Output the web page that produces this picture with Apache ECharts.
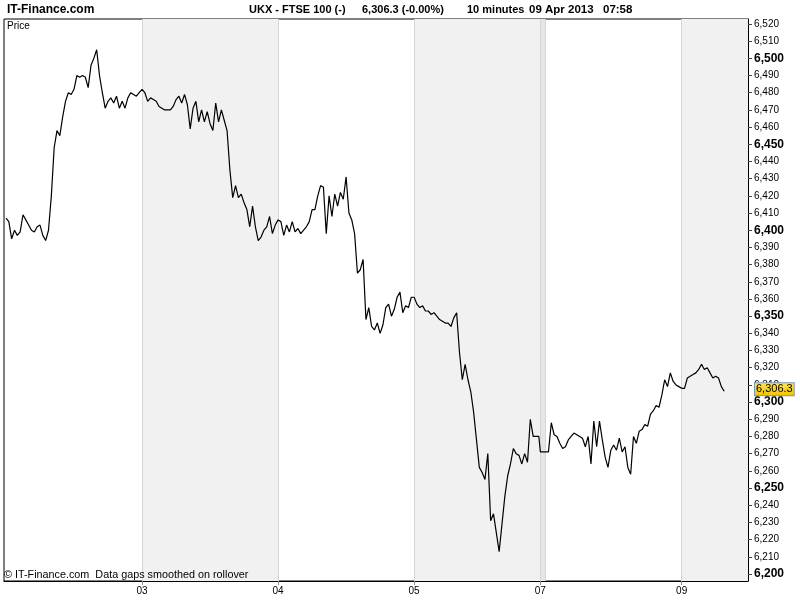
<!DOCTYPE html>
<html><head><meta charset="utf-8">
<script src="https://cdn.jsdelivr.net/npm/echarts@6/dist/echarts.min.js"></script>
<style>html,body{margin:0;padding:0;background:#fff}#c{width:800px;height:600px}</style>
</head><body><div id="c"></div>
<script>
// ---- data (10-minute FTSE 100 chart, sampled every 30 minutes of session time) ----
const dayLabels = ['02','03','04','05','07','08','09'];
// gapless session length (hours) of each trading day shown on the axis
const sessionHours = [24, 24, 24, 22.27, 0.93, 24, 8];
const lastDayAxisHours = 11.7;         // visible span of the last day
const sampleStepHours = 0.5;
const labelledDays = ['03','04','05','07','09'];
const gridDays = ['03','04','05','07','08','09'];
const shadedDays = ['03','05','09'];
const darkShadedDays = ['07'];

const day02 = [6407,6405,6395,6400,6397,6399,6409,6406,6403,6400,
               6399,6402,6403,6397,6394,6400,6420,6448,6458,6455,
               6466,6475,6480,6479,6482,6490,6489,6490,6489,6483,
               6496,6500,6505,6490,6480,6471,6475,6477,6474,6478,
               6471,6475,6471,6477,6480,6479,6478,6480];
const day03 = [6482,6480,6475,6477,6476,6475,6472,6471,6470,6470,
               6470,6472,6476,6478,6474,6479,6473,6459,6471,6475,
               6463,6470,6463,6469,6462,6458,6474,6463,6470,6464,
               6458,6435,6419,6426,6419,6421,6416,6412,6402,6414,
               6402,6394,6396,6400,6402,6408,6398,6403];
const day04 = [6406,6405,6397,6403,6399,6405,6399,6401,6398,6400,
               6402,6405,6412,6412,6420,6426,6425,6398,6420,6408,
               6421,6414,6422,6418,6431,6410,6406,6398,6375,6377,
               6383,6348,6355,6344,6342,6346,6340,6345,6355,6357,
               6350,6354,6361,6364,6352,6356,6355,6361];
const day05 = [6361,6357,6355,6356,6353,6353,6351,6352,6350,6348,
               6347,6346,6346,6344,6349,6352,6329,6313,6322,6313,
               6306,6294,6278,6262,6259,6255,6270,6231,6235,6224,
               6213,6229,6245,6257,6264,6273,6270,6269,6264,6270,
               6265,6290,6280,6280,6280];
const day07 = [6271,6271];
const day08 = [6271,6271,6288,6281,6280,6276,6273,6274,6278,6280,
               6282,6281,6280,6279,6274,6280,6264,6289,6274,6289,
               6278,6268,6262,6272,6275,6272,6279,6271,6274,6262,
               6258,6280,6276,6283,6284,6287,6286,6293,6295,6298,
               6297,6304,6313,6309,6317,6312,6310,6309];
const day09 = [6308,6308,6314,6315,6316,6317,6319,6322,6319,6320,
               6317,6314,6315,6314,6309,6306.3];

const yTicks = [6200,6210,6220,6230,6240,6250,6260,6270,6280,6290,
                6300,6310,6320,6330,6340,6350,6360,6370,6380,6390,
                6400,6410,6420,6430,6440,6450,6460,6470,6480,6490,
                6500,6510,6520];
const boldTicks = [6200,6250,6300,6350,6400,6450,6500];
const lastPrice = 6306.3;
const yMin = 6195.9, yMax = 6522.9;

// ---- build ----
const dayPrices = [day02, day03, day04, day05, day07, day08, day09];
const offsets = [];
let acc = 0;
sessionHours.forEach(h => { offsets.push(acc); acc += h; });
const xMin = -0.35;
const xMax = offsets[offsets.length - 1] + lastDayAxisHours;
const dayStart = d => offsets[dayLabels.indexOf(d)];
const dayEnd = d => { const i = dayLabels.indexOf(d); return i + 1 < offsets.length ? offsets[i + 1] : xMax; };

const lineData = [];
dayPrices.forEach((arr, d) => arr.forEach((v, i) => lineData.push([offsets[d] + i * sampleStepHours, v])));

const FONT = '"Liberation Sans", Arial, sans-serif';
const fmtNum = v => { const s = String(v); return s.slice(0, 1) + ',' + s.slice(1); };

const chart = echarts.init(document.getElementById('c'), null, {renderer: 'canvas'});
chart.setOption({
  animation: false,
  backgroundColor: '#fff',
  textStyle: {fontFamily: FONT},
  grid: {left: 4, right: 52, top: 19, bottom: 19, show: true, backgroundColor: '#fff', borderColor: '#000', borderWidth: 1},
  xAxis: {
    type: 'value', min: xMin, max: xMax,
    axisLine: {show: true, onZero: false, lineStyle: {color: '#000', width: 1}},
    axisTick: {show: true, length: 4, customValues: labelledDays.map(dayStart), lineStyle: {color: '#888'}},
    axisLabel: {
      show: true, customValues: labelledDays.map(dayStart), margin: 5,
      fontSize: 10, color: '#000', fontFamily: FONT,
      formatter: v => { let best = 0; offsets.forEach((o, i) => { if (Math.abs(o - v) < Math.abs(offsets[best] - v)) best = i; }); return dayLabels[best]; }
    },
    splitLine: {show: false}
  },
  yAxis: {
    type: 'value', position: 'right', min: yMin, max: yMax,
    axisLine: {show: true, onZero: false, lineStyle: {color: '#000', width: 1}},
    axisTick: {show: true, length: 4, customValues: yTicks, lineStyle: {color: '#444'}},
    axisLabel: {
      show: true, customValues: yTicks, margin: 6, fontSize: 10, color: '#000', fontFamily: FONT,
      formatter: v => boldTicks.includes(v) ? '{b|' + fmtNum(v) + '}' : fmtNum(v),
      rich: {b: {fontWeight: 'bold', fontSize: 12, color: '#000', fontFamily: FONT}}
    },
    splitLine: {show: false}
  },
  series: [
    {
      type: 'line', data: [], z: 1, silent: true,
      markArea: {
        silent: true,
        data: shadedDays.map(d => [{xAxis: dayStart(d), itemStyle: {color: '#f1f1f1'}}, {xAxis: dayEnd(d)}])
          .concat(darkShadedDays.map(d => [{xAxis: dayStart(d), itemStyle: {color: '#e6e6e6'}}, {xAxis: dayEnd(d)}]))
      },
      markLine: {
        silent: true, symbol: ['none', 'none'], label: {show: false},
        lineStyle: {color: '#d6d6d6', width: 1, type: 'solid'},
        data: gridDays.map(d => ({xAxis: dayStart(d)}))
      }
    },
    {
      type: 'line', data: lineData, z: 5, symbol: 'none', silent: true,
      lineStyle: {color: '#000', width: 1.2},
      markLine: {
        silent: true, symbol: ['none', 'none'],
        lineStyle: {color: 'rgba(0,0,0,0)', width: 1, type: 'solid'},
        label: {
          show: true, position: 'end', distance: 7, formatter: fmtNum(lastPrice), offset: [0, -2],
          fontSize: 11, color: '#000', fontFamily: FONT,
          backgroundColor: {type: 'linear', x: 0, y: 0, x2: 0, y2: 1, colorStops: [{offset: 0, color: '#ffe65a'}, {offset: 1, color: '#f2c200'}]},
          borderColor: '#7f96aa', borderWidth: 1, padding: [1, 1, 0, 1]
        },
        data: [{yAxis: lastPrice}]
      }
    }
  ],
  graphic: [
    {type: 'text', left: 7, top: 4, z: 100, style: {text: 'IT-Finance.com', font: 'bold 12px ' + FONT, fill: '#000'}},
    {type: 'text', left: 249, top: 4, z: 100, style: {text: 'UKX - FTSE 100 (-)', font: 'bold 11px ' + FONT, fill: '#000'}},
    {type: 'text', left: 362, top: 4, z: 100, style: {text: '6,306.3 (-0.00%)', font: 'bold 11px ' + FONT, fill: '#000'}},
    {type: 'text', left: 467, top: 4, z: 100, style: {text: '10 minutes', font: 'bold 11px ' + FONT, fill: '#000'}},
    {type: 'text', left: 529, top: 4, z: 100, style: {text: '09 Apr 2013', font: 'bold 11.5px ' + FONT, fill: '#000'}},
    {type: 'text', left: 603, top: 4, z: 100, style: {text: '07:58', font: 'bold 11.5px ' + FONT, fill: '#000'}},
    {type: 'text', left: 7, top: 21, z: 100, style: {text: 'Price', font: '10px ' + FONT, fill: '#000'}},
    {type: 'text', left: 4, top: 570, z: 100, style: {text: '\u00a9 IT-Finance.com  Data gaps smoothed on rollover', font: '10.8px ' + FONT, fill: '#000'}}
  ]
});
</script></body></html>
